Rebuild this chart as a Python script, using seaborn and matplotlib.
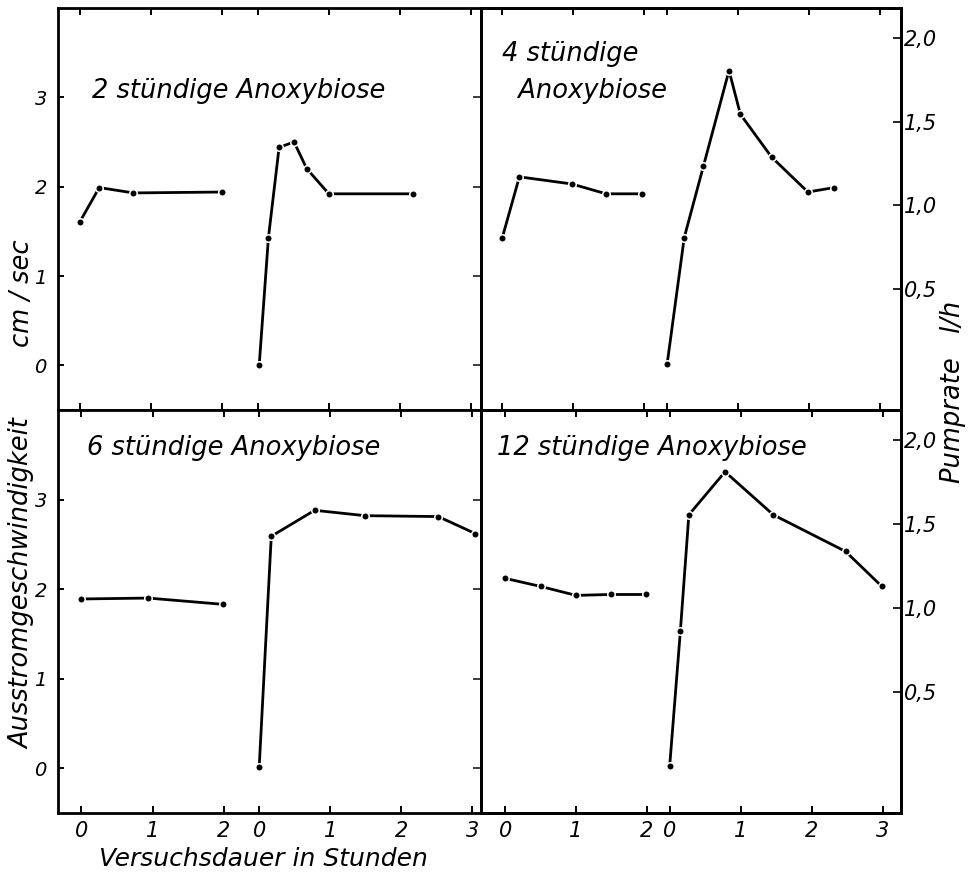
import numpy as np
import pandas as pd
import matplotlib
matplotlib.use("Agg")
import matplotlib.pyplot as plt
import seaborn as sns

# ---------------- data ----------------
titles = ["2 stündige Anoxybiose", "4 stündige\n  Anoxybiose",
          "6 stündige Anoxybiose", "12 stündige Anoxybiose"]

# 2 stündige Anoxybiose
a2_pre_t = [0.0, 0.27, 0.75, 2.0]
a2_pre_v = [1.61, 1.99, 1.93, 1.94]
a2_post_t = [0.02, 0.15, 0.30, 0.51, 0.69, 1.0, 2.18]
a2_post_v = [0.0, 1.43, 2.44, 2.50, 2.20, 1.92, 1.92]

# 4 stündige Anoxybiose
a4_pre_t = [0.0, 0.24, 0.98, 1.46, 1.97]
a4_pre_v = [1.43, 2.11, 2.03, 1.92, 1.92]
a4_post_t = [0.0, 0.24, 0.51, 0.87, 1.03, 1.47, 1.98, 2.35]
a4_post_v = [0.02, 1.43, 2.23, 3.30, 2.81, 2.33, 1.94, 1.99]

# 6 stündige Anoxybiose
a6_pre_t = [0.0, 0.94, 1.99]
a6_pre_v = [1.89, 1.90, 1.83]
a6_post_t = [0.0, 0.17, 0.78, 1.49, 2.52, 3.04]
a6_post_v = [0.01, 2.59, 2.88, 2.82, 2.81, 2.62]

# 12 stündige Anoxybiose
a12_pre_t = [0.0, 0.50, 1.0, 1.49, 1.98]
a12_pre_v = [2.12, 2.03, 1.93, 1.94, 1.94]
a12_post_t = [0.0, 0.15, 0.27, 0.78, 1.46, 2.48, 2.99]
a12_post_v = [0.03, 1.53, 2.83, 3.31, 2.83, 2.42, 2.03]

x_tick_labels = ["0", "1", "2", "0", "1", "2", "3"]
pre_ticks = [0, 1, 2]
post_ticks = [0, 1, 2, 3]
left_ticks = [0, 1, 2, 3]
left_tick_labels = ["0", "1", "2", "3"]
right_ticks = [0.5, 1.0, 1.5, 2.0]
right_tick_labels = ["0,5", "1,0", "1,5", "2,0"]

# ---------------- style ----------------
sns.set_theme(style="white")
plt.rcParams["font.family"] = ["DejaVu Sans"]
plt.rcParams["font.style"] = "italic"
plt.rcParams["text.color"] = "black"

W, H = 971, 875
fig = plt.figure(figsize=(W / 100, H / 100), dpi=100)

def fx(px):
    return px / W

def fy(py):
    return 1 - py / H

L, M, R = 58, 481, 901
T, MID, B = 8, 410, 813

rects = [
    (L, MID, M, T),
    (M, MID, R, T),
    (L, B, M, MID),
    (M, B, R, MID),
]
offsets = [2.5, 2.32, 2.5, 2.32]
xlims = [(-0.31, 5.64), (-0.30, 5.61), (-0.33, 5.62), (-0.34, 5.58)]
ylim = (-0.5, 4.0)
# right (Pumprate) axis:  cm/s = a + b * l/h
pa, pb = -0.08, 1.87

series = [
    (a2_pre_t, a2_pre_v, a2_post_t, a2_post_v),
    (a4_pre_t, a4_pre_v, a4_post_t, a4_post_v),
    (a6_pre_t, a6_pre_v, a6_post_t, a6_post_v),
    (a12_pre_t, a12_pre_v, a12_post_t, a12_post_v),
]

for i, ((x0, y0, x1, y1), off, xl, (pt, pv, qt, qv)) in enumerate(
        zip(rects, offsets, xlims, series)):
    ax = fig.add_axes([fx(x0), fy(y0), fx(x1) - fx(x0), fy(y1) - fy(y0)])
    df = pd.DataFrame({
        "x": list(pt) + [off + t for t in qt],
        "v": list(pv) + list(qv),
        "seg": ["vor"] * len(pt) + ["nach"] * len(qt),
    })
    sns.lineplot(data=df, x="x", y="v", units="seg", estimator=None,
                 color="black", lw=2.0, marker="o", markersize=5.4,
                 markeredgecolor="white", markeredgewidth=1.1, ax=ax)
    ax.set_xlim(*xl)
    ax.set_ylim(*ylim)
    ax.set_xlabel("")
    ax.set_ylabel("")
    ax.set_facecolor("white")
    for s in ax.spines.values():
        s.set_visible(True)
        s.set_color("black")
        s.set_linewidth(2.0)

    xt = list(pre_ticks) + [off + t for t in post_ticks]
    ax.set_xticks(xt)
    bottom_row = i >= 2
    if bottom_row:
        ax.set_xticklabels(x_tick_labels)
    else:
        ax.set_xticklabels([])
    ax.tick_params(axis="x", which="both", direction="in", top=True,
                   bottom=True, length=5, width=1.4, labelsize=15, pad=6,
                   labelbottom=bottom_row, colors="black")

    if i % 2 == 0:
        ax.set_yticks(left_ticks)
        ax.set_yticklabels(left_tick_labels)
        ax.tick_params(axis="y", direction="in", left=True, right=False,
                       length=4, width=1.4, labelsize=14, pad=8,
                       colors="black")
    else:
        ax.set_yticks(left_ticks)
        ax.tick_params(axis="y", left=False, right=False, labelleft=False)
        ax2 = ax.twinx()
        ax2.set_ylim((ylim[0] - pa) / pb, (ylim[1] - pa) / pb)
        ax2.set_yticks(right_ticks)
        ax2.set_yticklabels(right_tick_labels)
        ax2.tick_params(axis="y", direction="in", right=True, left=False,
                        length=6, width=1.2, labelsize=15, pad=2,
                        colors="black")
        ax2.grid(False)
        for s in ax2.spines.values():
            s.set_color("black")
            s.set_linewidth(2.0)

# panel titles
fig.text(fx(92), fy(98), titles[0], fontsize=18.5, ha="left", va="baseline")
fig.text(fx(502), fy(98), titles[1], fontsize=18.5, ha="left",
         va="baseline", linespacing=1.55)
fig.text(fx(87), fy(455), titles[2], fontsize=18.5, ha="left",
         va="baseline")
fig.text(fx(497), fy(455), titles[3], fontsize=18.5, ha="left",
         va="baseline")

# axis labels
fig.text(fx(22), fy(584), "Ausstromgeschwindigkeit", fontsize=18.5,
         rotation=90, ha="center", va="center")
fig.text(fx(22), fy(293), "cm / sec", fontsize=18.5, rotation=90,
         ha="center", va="center")
fig.text(fx(953), fy(392), "Pumprate   l/h", fontsize=18.5, rotation=90,
         ha="center", va="center")
fig.text(fx(263), fy(866), "Versuchsdauer in Stunden", fontsize=18,
         ha="center", va="baseline")

fig.savefig("out.png", dpi=100, facecolor="white")
